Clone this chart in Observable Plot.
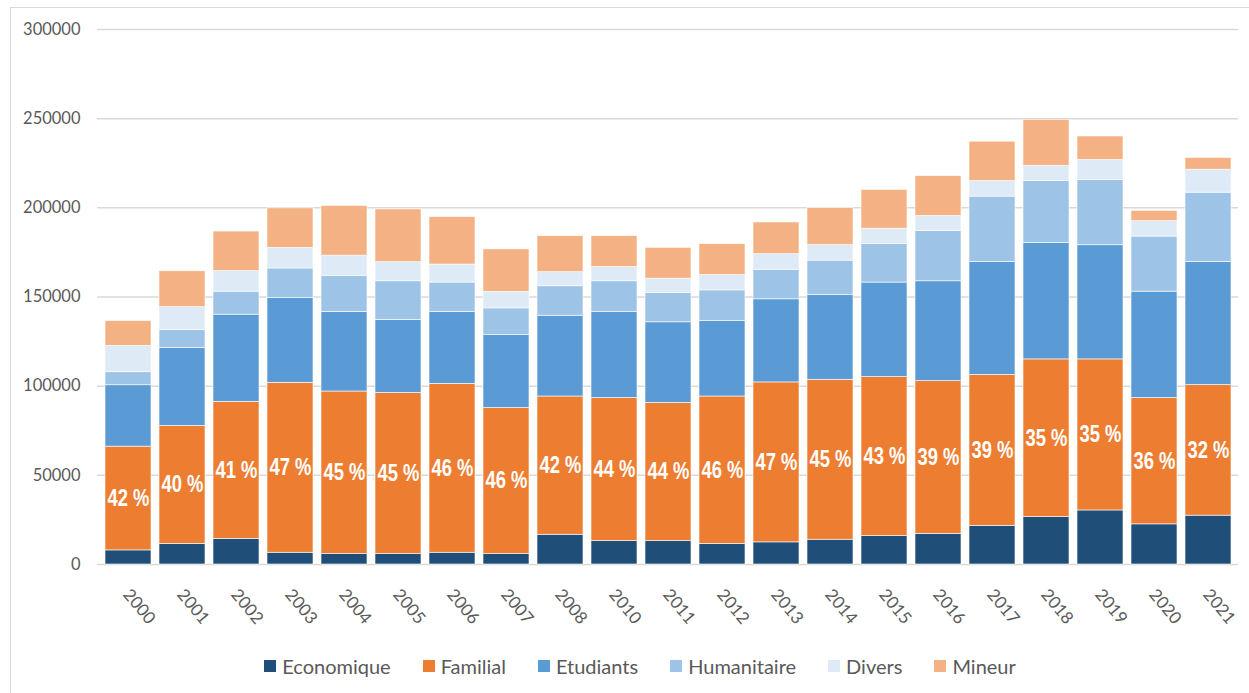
<!DOCTYPE html>
<html>
<head>
<meta charset="utf-8">
<script src="https://cdn.jsdelivr.net/npm/d3@7"></script>
<script src="https://cdn.jsdelivr.net/npm/@observablehq/plot@0.6"></script>
<style>
  html, body { margin: 0; padding: 0; background: #fff; }
  #wrap { position: relative; width: 1249px; height: 693px; overflow: hidden; }
  #frame { position: absolute; left: 10px; top: 7px; width: 1260px; height: 700px; border: 1px solid #d9d9d9; box-sizing: border-box; pointer-events: none; }
  #chart { position: absolute; left: 0; top: 0; }
  #legend { display: flex; justify-content: center; align-items: center; height: 28px; font-family: Lato, "Open Sans", sans-serif; font-size: 20px; color: #595959; padding-left: 31px; }
  .item { display: flex; align-items: center; margin: 0 16px; }
  .sw { width: 12px; height: 12px; margin-right: 6px; }
</style>
</head>
<body>
<div id="wrap"><div id="frame"></div><div id="chart"></div></div>
<script>
const years = ["2000","2001","2002","2003","2004","2005","2006","2007","2008","2010","2011","2012","2013","2014","2015","2016","2017","2018","2019","2020","2021"];
const categories = ["Economique","Familial","Etudiants","Humanitaire","Divers","Mineur"];
const colors = ["#1f4e79","#ed7d31","#5b9bd5","#9dc3e6","#deebf7","#f4b183"];
const economique = [7900,11600,14400,6600,5800,5800,6600,5800,16700,13100,13100,11600,12400,13900,15900,17200,21700,26600,30300,22500,27400];
const familial = [58200,66100,76800,95300,91200,90400,94700,82000,77500,80300,77500,82600,89700,89700,89200,85600,84600,88400,84700,70900,73200];
const etudiants = [34400,43800,48900,47600,44600,41000,40300,40800,45300,48100,45200,42300,46600,47400,53000,56000,63300,65300,64000,59600,69100];
const humanitaire = [7300,9900,12900,16500,20200,21600,16500,15000,16500,17300,16500,17200,16600,19400,21600,28100,36700,34700,36700,30900,38800];
const divers = [14800,12900,11500,11600,11400,10700,10100,9300,7900,8000,8000,8600,8700,8700,8600,8600,8700,8600,11200,8600,12900];
const mineur = [13900,20100,22200,22100,27900,29600,26600,23800,20200,17300,17300,17300,17800,20800,21700,22300,22100,25800,13100,5800,6600];
const pctLabels = ["42 %","40 %","41 %","47 %","45 %","45 %","46 %","46 %","42 %","44 %","44 %","46 %","47 %","45 %","43 %","39 %","39 %","35 %","35 %","36 %","32 %"];
const yTicks = [0,50000,100000,150000,200000,250000,300000];

const series = [economique, familial, etudiants, humanitaire, divers, mineur];
const rows = [];
years.forEach((yr, i) => categories.forEach((c, j) => rows.push({year: yr, type: c, value: series[j][i]})));
const labels = years.map((yr, i) => ({year: yr, y: economique[i] + familial[i] / 2, text: pctLabels[i]}));

const plot = Plot.plot({
  width: 1249,
  height: 652,
  marginLeft: 97,
  marginRight: 11,
  marginTop: 29,
  marginBottom: 88,
  style: {fontFamily: "Lato, 'Open Sans', sans-serif", fontSize: "16px", color: "#595959", background: "transparent"},
  x: {domain: years, paddingInner: 0.153, paddingOuter: 0.075, axis: null, label: null},
  y: {domain: [0, 300000], label: null},
  color: {domain: categories, range: colors},
  marks: [
    Plot.gridY(yTicks, {stroke: "#d9d9d9", strokeOpacity: 1, strokeWidth: 1.5}),
    Plot.axisY(yTicks, {tickSize: 0, tickPadding: 17, tickFormat: d => String(d), fontSize: 16.5, fill: "#595959", label: null}),
    Plot.barY(rows, {x: "year", y: "value", fill: "type", order: categories, stroke: "white", strokeWidth: 0.6}),
    Plot.text(labels, {x: "year", y: "y", text: "text", fill: "white", fontWeight: "bold", fontSize: 23, fontFamily: "'Liberation Sans', Arial, sans-serif"}),
    Plot.text(years, {x: d => d, frameAnchor: "bottom", dy: 27, dx: -2, rotate: 50, textAnchor: "start", lineAnchor: "middle", fontSize: 17, fill: "#595959"})
  ]
});
document.getElementById("chart").appendChild(plot);

// condense the percentage labels (narrow bold face)
d3.select(plot).selectAll("text").filter(function() { return /%$/.test(this.textContent); }).each(function() {
  const w = this.getComputedTextLength();
  if (w > 0) {
    this.setAttribute("textLength", (w * 0.8).toFixed(1));
    this.setAttribute("lengthAdjust", "spacingAndGlyphs");
  }
});

const legend = document.createElement("div");
legend.id = "legend";
categories.forEach((c, j) => {
  const it = document.createElement("div");
  it.className = "item";
  const sw = document.createElement("div");
  sw.className = "sw";
  sw.style.background = colors[j];
  const tx = document.createElement("span");
  tx.textContent = c;
  it.appendChild(sw); it.appendChild(tx);
  legend.appendChild(it);
});
document.getElementById("chart").appendChild(legend);
</script>
</body>
</html>
